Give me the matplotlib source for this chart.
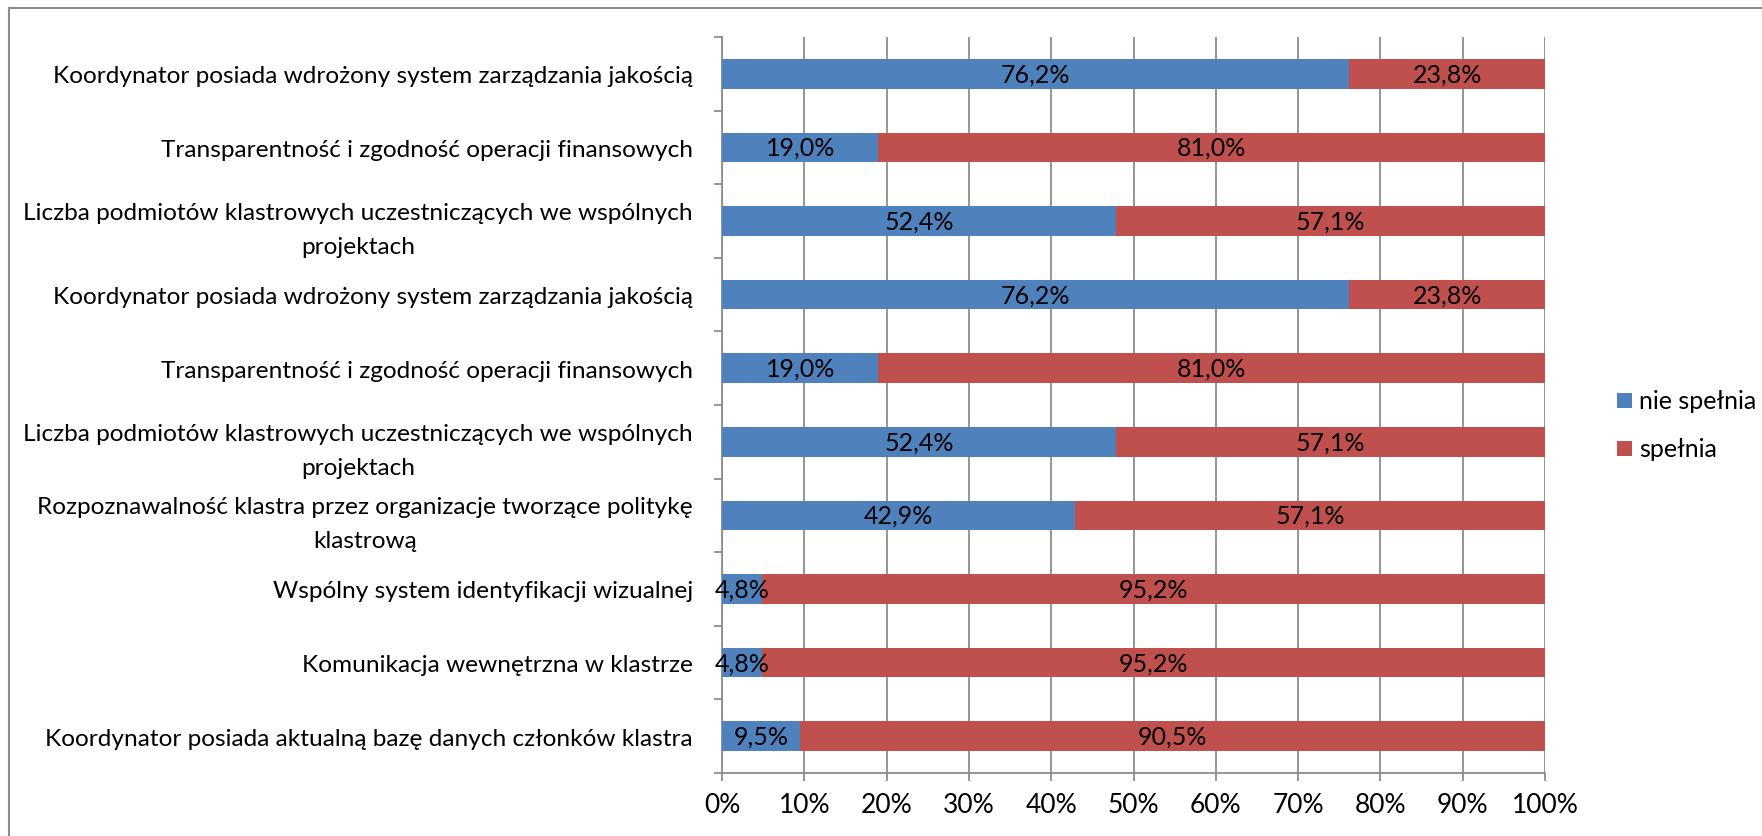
import matplotlib
matplotlib.use("Agg")
import matplotlib.pyplot as plt
from matplotlib.patches import Rectangle
from matplotlib.lines import Line2D
import numpy as np

plt.rcParams['font.family'] = ['Lato', 'DejaVu Sans']

categories = [
    "Koordynator posiada wdrożony system zarządzania jakością",
    "Transparentność i zgodność operacji finansowych",
    "Liczba podmiotów klastrowych uczestniczących we wspólnych\nprojektach",
    "Koordynator posiada wdrożony system zarządzania jakością",
    "Transparentność i zgodność operacji finansowych",
    "Liczba podmiotów klastrowych uczestniczących we wspólnych\nprojektach",
    "Rozpoznawalność klastra przez organizacje tworzące politykę\nklastrową",
    "Wspólny system identyfikacji wizualnej",
    "Komunikacja wewnętrzna w klastrze",
    "Koordynator posiada aktualną bazę danych członków klastra",
]
nie_spelnia = [76.2, 19.0, 52.4, 76.2, 19.0, 52.4, 42.9, 4.8, 4.8, 9.5]
spelnia = [23.8, 81.0, 57.1, 23.8, 81.0, 57.1, 57.1, 95.2, 95.2, 90.5]
series_names = ["nie spełnia", "spełnia"]
x_ticks = [0, 10, 20, 30, 40, 50, 60, 70, 80, 90, 100]

blue = "#4F81BD"
red = "#C0504D"
grid_col = "#8C8C8C"
FS = 18

W, H = 1762, 837
fig = plt.figure(figsize=(W / 100, H / 100), dpi=100)
ax = fig.add_axes([722 / W, 1 - 774 / H, (1545 - 722) / W, (774 - 38) / H])

a = np.array(nie_spelnia)
b = np.array(spelnia)
tot = a + b
pa = a / tot * 100
pb = b / tot * 100

n = len(categories)
y = np.arange(n)[::-1]
h = 0.4
ax.barh(y, pa, height=h, color=blue, zorder=3)
ax.barh(y, pb, left=pa, height=h, color=red, zorder=3)

for yi, va, vb, sa, sb in zip(y, a, b, pa, pb):
    ax.text(sa / 2, yi, f"{va:.1f}%".replace(".", ","), ha="center", va="center",
            fontsize=FS, color="black", zorder=4)
    ax.text(sa + sb / 2, yi, f"{vb:.1f}%".replace(".", ","), ha="center", va="center",
            fontsize=FS, color="black", zorder=4)

ax.set_xlim(0, 100)
ax.set_ylim(-0.5, n - 0.5)
ax.set_xticks(x_ticks)
ax.set_xticklabels([f"{t}%" for t in x_ticks], fontsize=FS + 1)
ax.xaxis.grid(True, color=grid_col, linewidth=1.3, zorder=0)

ax.set_yticks(y)
ax.set_yticklabels(categories, fontsize=17.6, multialignment="center", linespacing=1.75)
ax.tick_params(axis="y", length=0, pad=21)
ax.set_yticks(np.arange(-0.5, n, 1.0), minor=True)
ax.tick_params(axis="y", which="minor", length=6, width=1.3, color=grid_col)
ax.tick_params(axis="x", length=6, width=1.3, color=grid_col, pad=8)

for s in ["top", "right"]:
    ax.spines[s].set_visible(False)
for s in ["left", "bottom"]:
    ax.spines[s].set_color(grid_col)
    ax.spines[s].set_linewidth(1.3)

# legend entries, laid out in figure pixels
for i, (name, col) in enumerate(zip(series_names, [blue, red])):
    top = 394 + i * 48
    fig.add_artist(Rectangle((1617 / W, 1 - (top + 15) / H), 15 / W, 15 / H,
                             transform=fig.transFigure, facecolor=col, edgecolor="none"))
    fig.text(1639 / W, 1 - (top + 7.5) / H, name, fontsize=18, ha="left", va="center")

# outer frame
fig.add_artist(Line2D([9 / W, 1], [1 - 9 / H, 1 - 9 / H], color="#8C8C8C", linewidth=1.5))
fig.add_artist(Line2D([9 / W, 9 / W], [0, 1 - 9 / H], color="#8C8C8C", linewidth=1.5))

fig.savefig("out.png", dpi=100)
